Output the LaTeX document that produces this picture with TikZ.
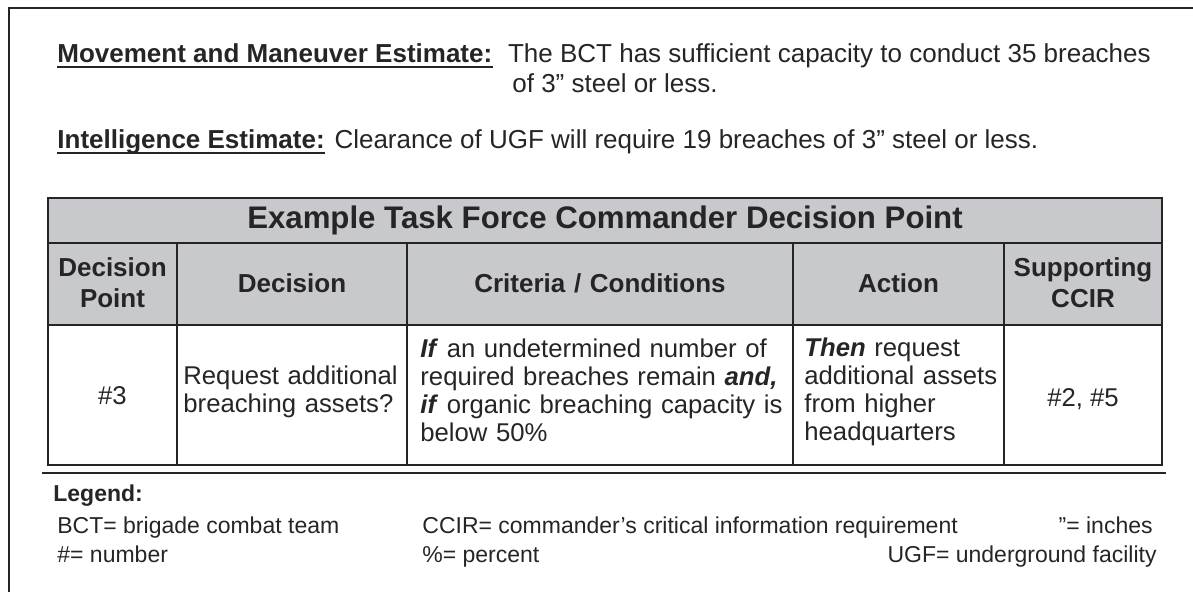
\documentclass[tikz,border=0pt]{standalone}
\usepackage{fontspec}
\setmainfont{Liberation Sans}
\usetikzlibrary{positioning}
\definecolor{ink}{RGB}{38,36,37}
\definecolor{hdgray}{RGB}{200,201,204}

\begin{document}
\begin{tikzpicture}[x=0.5pt, y=-0.5pt, color=ink, inner sep=0pt,
  lbl/.style={anchor=base west, font=\fontsize{13}{15}\selectfont\bfseries},
  txt/.style={anchor=base west, font=\fontsize{13}{15}\selectfont},
  hd/.style={anchor=base, align=center, text width=180pt, font=\fontsize{13}{15.5}\selectfont\bfseries},
  cell/.style={anchor=base west, align=left, text width=190pt, font=\fontsize{12.85}{14}\selectfont},
  num/.style={anchor=base, font=\fontsize{12.85}{14}\selectfont},
  leg/.style={anchor=base west, font=\fontsize{11.5}{14}\selectfont},
  rule/.style={line width=1pt}]
  \useasboundingbox (0,0) rectangle (1193,592);
  \draw[line width=1.4pt] (9,592) -- (9,8) -- (1193,8);

  \node[lbl] (mvlabel) at (57,63) {Movement and Maneuver Estimate:};
  \node[txt, base right=7.5pt of mvlabel] (mvtext) {The BCT has sufficient capacity to conduct 35 breaches};
  \node[txt] (mvmore) at (512,93) {of 3” steel or less.};
  \node[lbl] (intlabel) at (57,149) {Intelligence Estimate:};
  \node[txt, base right=4.5pt of intlabel] (inttext) {Clearance of UGF will require 19 breaches of 3” steel or less.};
  \draw[line width=1pt] ([yshift=-2pt]mvlabel.base west) -- ([yshift=-2pt]mvlabel.base east);
  \draw[line width=1pt] ([yshift=-2pt]intlabel.base west) -- ([yshift=-2pt]intlabel.base east);

  \fill[hdgray] (48,198) rectangle (1162,325);
  \draw[rule] (48,198) rectangle (1162,465);
  \draw[rule] (48,243) -- (1162,243) (48,325) -- (1162,325);
  \foreach \x in {177,407,793,1004}
    \draw[rule] (\x,243) -- (\x,465);
  \draw[line width=1.25pt] (42,473) -- (1166,473);

  \node[anchor=base, font=\fontsize{15.6}{18}\selectfont\bfseries] (title) at (605,229) {Example Task Force Commander Decision Point};
  \node[hd] (hdpoint) at (112.5,277) {Decision\\Point};
  \node[hd] (hddec) at (292,293) {Decision};
  \node[hd] (hdcrit) at (600,293) {Criteria / Conditions};
  \node[hd] (hdact) at (898.5,293) {Action};
  \node[hd] (hdccir) at (1083,277) {Supporting\\CCIR};

  \node[num] (point) at (112.5,405) {\#3};
  \node[cell] (dec) at (183,385) {Request additional\\breaching assets?};
  \node[cell] (crit) at (420,358) {\textbf{\textit{If}} an undetermined number of\\required breaches remain \textbf{\textit{and,}}\\\textbf{\textit{if}} organic breaching capacity is\\below 50\%};
  \node[cell] (act) at (804,357) {\textbf{\textit{Then}} request\\additional assets\\from higher\\headquarters};
  \node[num] (ccir) at (1083,407) {\#2, \#5};

  \node[leg, font=\fontsize{11.5}{14}\selectfont\bfseries] (legend) at (53,502) {Legend:};
  \node[leg] (bct) at (57,533) {BCT= brigade combat team};
  \node[leg] (ccirkey) at (422,533) {CCIR= commander’s critical information requirement};
  \node[leg, anchor=base east] (inch) at (1153,533) {”= inches};
  \node[leg] (hash) at (57,562) {\#= number};
  \node[leg] (pct) at (422,562) {\%= percent};
  \node[leg, anchor=base east] (ugf) at (1157,562) {UGF= underground facility};
\end{tikzpicture}
\end{document}
